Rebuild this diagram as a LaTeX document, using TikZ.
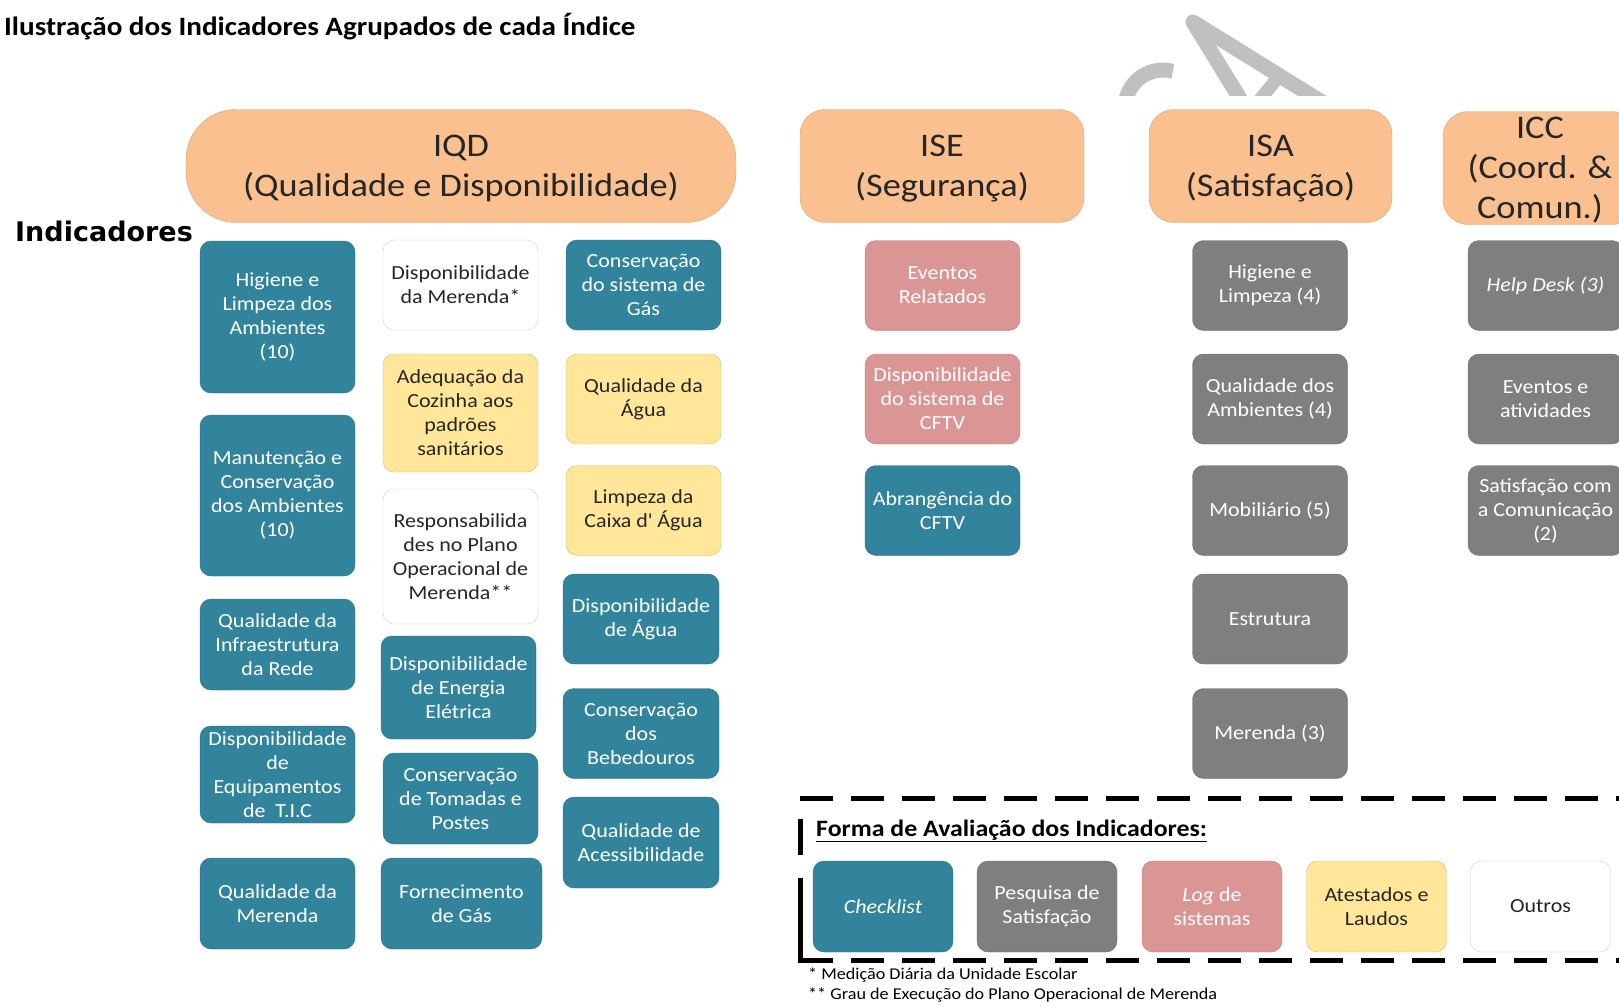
\documentclass[tikz,border=0pt]{standalone}
\usepackage{fontspec}
\setmainfont{Carlito}[FakeStretch=1.1]
\newfontfamily\widesans{DejaVu Sans}
\usepackage{tikz}

\definecolor{tealbox}{HTML}{31849B}
\definecolor{graybox}{HTML}{7F7F7F}
\definecolor{pinkbox}{HTML}{D99694}
\definecolor{yellowbox}{HTML}{FFE699}
\definecolor{headbox}{HTML}{FAC090}
\definecolor{wmark}{HTML}{C0C0C0}

\begin{document}
\begin{tikzpicture}[x=1pt, y=-1pt,
  ind/.style={rounded corners=11pt, minimum width=155pt, minimum height=90pt, inner sep=0pt, align=center, font=\fontsize{20}{24}\selectfont},
  tealind/.style={ind, fill=tealbox, draw=tealbox!85!black, text=white},
  grayind/.style={ind, fill=graybox, draw=graybox!85!black, text=white},
  pinkind/.style={ind, fill=pinkbox, draw=pinkbox!85!black, text=white},
  yellowind/.style={ind, fill=yellowbox, draw=yellowbox!80!black, text=black!85},
  whiteind/.style={ind, fill=white, draw=black!20, text=black!85},
  head/.style={fill=headbox, draw=headbox!85!black, align=center, inner sep=0pt, minimum height=113pt, text depth=0pt, font=\fontsize{33}{40}\selectfont, text=black!85},
  frame/.style={line width=5pt, dash pattern=on 33pt off 18pt}]
\useasboundingbox (0,0) rectangle (1619,1005);
\clip (0,0) rectangle (1619,1005);

\begin{scope}
\clip (1080,0) rectangle (1619,95);
\draw[wmark, line width=15pt] (1125.6,101.4) arc[start angle=190, end angle=285, radius=38];
\draw[wmark, line width=15pt, line join=round] (1242,102) -- (1193,22) -- (1322,102);
\draw[wmark, line width=13pt] (1258,102) -- (1276,80);
\end{scope}

\node[anchor=west, inner sep=0pt, font=\bfseries\fontsize{26.5}{32}\selectfont] (titulo) at (4,27) {Ilustração dos Indicadores Agrupados de cada Índice};
\node[anchor=west, inner sep=0pt, font=\widesans\bfseries\fontsize{27}{32}\selectfont] (indic) at (15,231) {Indicadores};

\node[head, rounded corners=50pt, minimum width=550pt] (iqd) at (461,166) {IQD\\(Qualidade e Disponibilidade)};
\node[head, rounded corners=25pt, minimum width=284pt] (ise) at (942,166) {ISE\\(Segurança)};
\node[head, rounded corners=25pt, minimum width=243pt] (isa) at (1270.5,166) {ISA\\(Satisfação)};
\node[head, rounded corners=25pt, minimum width=194pt] (icc) at (1540,168) {ICC\\(Coord. \&\\Comun.)};

\node[tealind, minimum height=152pt] (higamb) at (277.5,317) {Higiene e\\Limpeza dos\\Ambientes\\(10)};
\node[tealind, minimum height=161pt] (manamb) at (277.5,495.5) {Manutenção e\\Conservação\\dos Ambientes\\(10)};
\node[tealind, minimum height=91pt] (qualrede) at (277.5,644.5) {Qualidade da\\Infraestrutura\\da Rede};
\node[tealind, minimum height=97pt] (equiptic) at (277.5,774.5) {Disponibilidade\\de\\Equipamentos\\de~~T.I.C};
\node[tealind, minimum height=91pt] (qualmer) at (277.5,903.5) {Qualidade da\\Merenda};

\node[whiteind] (dispmer) at (460.5,285) {Disponibilidade\\da Merenda*};
\node[yellowind, minimum height=118pt] (adcoz) at (460.5,413) {Adequação da\\Cozinha aos\\padrões\\sanitários};
\node[whiteind, minimum height=135pt] (respplano) at (460.5,556.5) {Responsabilida\\des no Plano\\Operacional de\\Merenda**};
\node[tealind, minimum height=103pt] (dispener) at (458.5,687.5) {Disponibilidade\\de Energia\\Elétrica};
\node[tealind, minimum height=91pt] (constom) at (460.5,798.5) {Conservação\\de Tomadas e\\Postes};
\node[tealind, minimum width=161pt, minimum height=91pt] (fornegas) at (461.5,903.5) {Fornecimento\\de Gás};

\node[tealind] (consgas) at (643.5,285) {Conservação\\do sistema de\\Gás};
\node[yellowind] (qualagua) at (643.5,399) {Qualidade da\\Água};
\node[yellowind] (limpcaixa) at (643.5,510.5) {Limpeza da\\Caixa d\textquotesingle\ Água};
\node[tealind, minimum width=156pt] (dispagua) at (641,619) {Disponibilidade\\de Água};
\node[tealind, minimum width=156pt] (consbeb) at (641,733.5) {Conservação\\dos\\Bebedouros};
\node[tealind, minimum width=156pt, minimum height=91pt] (qualacess) at (641,842.5) {Qualidade de\\Acessibilidade};

\node[pinkind] (evrel) at (942.5,285.5) {Eventos\\Relatados};
\node[pinkind] (dispcftv) at (942.5,399) {Disponibilidade\\do sistema de\\CFTV};
\node[tealind] (abrcftv) at (942.5,510.5) {Abrangência do\\CFTV};

\node[grayind] (higlimp) at (1270,285.5) {Higiene e\\Limpeza (4)};
\node[grayind] (qualamb) at (1270,399) {Qualidade dos\\Ambientes (4)};
\node[grayind] (mobil) at (1270,510.5) {Mobiliário (5)};
\node[grayind] (estrut) at (1270,619) {Estrutura};
\node[grayind] (merenda) at (1270,733.5) {Merenda (3)};

\node[grayind] (helpdesk) at (1545.5,285.5) {\itshape Help Desk (3)};
\node[grayind] (eventos) at (1545.5,399) {Eventos e\\atividades};
\node[grayind] (satcom) at (1545.5,510.5) {Satisfação com\\a Comunicação\\(2)};

\draw[frame] (800,798) -- (1619,798);
\draw[line width=5pt] (800,819) -- (800,855);
\draw[line width=5pt] (800,878) -- (800,960) -- (833,960);
\draw[frame] (851,960) -- (1619,960);
\node[anchor=west, inner sep=0pt, font=\bfseries\fontsize{23.5}{28}\selectfont] (lgtitulo) at (816,831) {\underline{Forma de Avaliação dos Indicadores:}};

\node[tealind, minimum width=140pt, minimum height=91pt] (lgcheck) at (883,906.5) {\itshape Checklist};
\node[grayind, minimum width=140pt, minimum height=91pt] (lgpesq) at (1047,906.5) {Pesquisa de\\Satisfação};
\node[pinkind, minimum width=140pt, minimum height=91pt] (lglog) at (1212,906.5) {{\itshape Log} de\\sistemas};
\node[yellowind, minimum width=140pt, minimum height=91pt] (lgatest) at (1376.5,906.5) {Atestados e\\Laudos};
\node[whiteind, minimum width=140pt, minimum height=91pt] (lgoutros) at (1540.5,906.5) {Outros};

\node[anchor=west, inner sep=0pt, font=\fontsize{16.5}{20}\selectfont] (nota1) at (808,975) {* Medição Diária da Unidade Escolar};
\node[anchor=west, inner sep=0pt, font=\fontsize{16.5}{20}\selectfont] (nota2) at (808,995) {** Grau de Execução do Plano Operacional de Merenda};
\end{tikzpicture}
\end{document}
